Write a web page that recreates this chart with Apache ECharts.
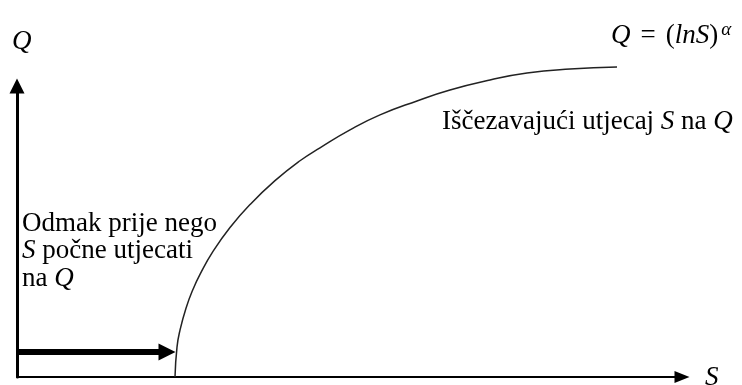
<!DOCTYPE html>
<html>
<head>
<meta charset="utf-8">
<script src="https://cdn.jsdelivr.net/npm/echarts@6/dist/echarts.min.js"></script>
<style>
html,body{margin:0;padding:0;background:#fff;}
#c{width:742px;height:385px;}
</style>
</head>
<body>
<div id="c"></div>
<script>
// Curve Q = (ln S)^alpha (abstract units)
var curveS = [158, 160, 163, 169, 176, 183, 196, 213, 233, 258, 283, 303, 333, 363, 400, 433, 473, 510, 553, 600];
var curveQ = [0, 30, 47, 69, 88, 103, 126, 150, 173, 197, 217, 230, 248, 263, 277, 288, 298, 305, 309, 311];
// Lag before S starts to affect Q (thick arrow along the S axis)
var lagStart = [0, 25];
var lagEnd = [150, 25];
var axisMaxS = 665;
var axisMaxQ = 292;

var curveData = curveS.map(function (s, i) { return [s, curveQ[i]]; });

var chart = echarts.init(document.getElementById('c'));
var serif = '"Liberation Serif", "DejaVu Serif", serif';
chart.setOption({
  backgroundColor: '#fff',
  animation: false,
  grid: { left: 17, right: 60, top: 86, bottom: 8, outerBoundsMode: 'none' },
  xAxis: {
    type: 'value', min: 0, max: axisMaxS,
    axisLine: { show: true, onZero: false, lineStyle: { color: '#000', width: 2 },
      symbol: ['none', 'triangle'], symbolSize: [12, 15] },
    axisTick: { show: false }, axisLabel: { show: false }, splitLine: { show: false }
  },
  yAxis: {
    type: 'value', min: 0, max: axisMaxQ,
    axisLine: { show: true, onZero: false, lineStyle: { color: '#000', width: 3 },
      symbol: ['none', 'triangle'], symbolSize: [15, 15] },
    axisTick: { show: false }, axisLabel: { show: false }, splitLine: { show: false }
  },
  series: [
    {
      type: 'line', data: curveData, smooth: 0.5, showSymbol: false, clip: false,
      lineStyle: { color: '#222', width: 1.5 },
      silent: true,
      markLine: {
        silent: true, animation: false,
        symbol: ['none', 'triangle'], symbolSize: [17, 17],
        label: { show: false },
        lineStyle: { color: '#000', width: 6, type: 'solid' },
        data: [[{ coord: lagStart }, { coord: lagEnd }]]
      }
    }
  ],
  graphic: [
    { type: 'text', left: 12, top: 28, style: { text: 'Q', font: 'italic 27px ' + serif, fill: '#000' } },
    { type: 'text', left: 705, top: 364, style: { text: 'S', font: 'italic 27px ' + serif, fill: '#000' } },
    { type: 'text', left: 611, top: 20, style: {
      text: '{i|Q}{n|=}{p|(}{i|lnS}{p|)}{s|α}',
      rich: {
        i: { font: 'italic 27px ' + serif, fill: '#000' },
        n: { font: '27px ' + serif, fill: '#000', padding: [0, 10, 0, 10] },
        p: { font: '27px ' + serif, fill: '#000' },
        s: { font: 'italic 19px ' + serif, fill: '#000', verticalAlign: 'top', padding: [0, 0, 12, 3] }
      } } },
    { type: 'text', left: 442, top: 108, style: {
      text: '{n|Iščezavajući utjecaj }{i|S}{n| na }{i|Q}',
      rich: {
        i: { font: 'italic 27px ' + serif, fill: '#000' },
        n: { font: '27px ' + serif, fill: '#000' }
      } } },
    { type: 'text', left: 22, top: 210, style: {
      text: '{n|Odmak prije nego}\n{i|S}{n| počne utjecati}\n{n|na }{i|Q}',
      rich: {
        i: { font: 'italic 27px ' + serif, fill: '#000', lineHeight: 27.5 },
        n: { font: '27px ' + serif, fill: '#000', lineHeight: 27.5 }
      } } }
  ]
});
</script>
</body>
</html>
